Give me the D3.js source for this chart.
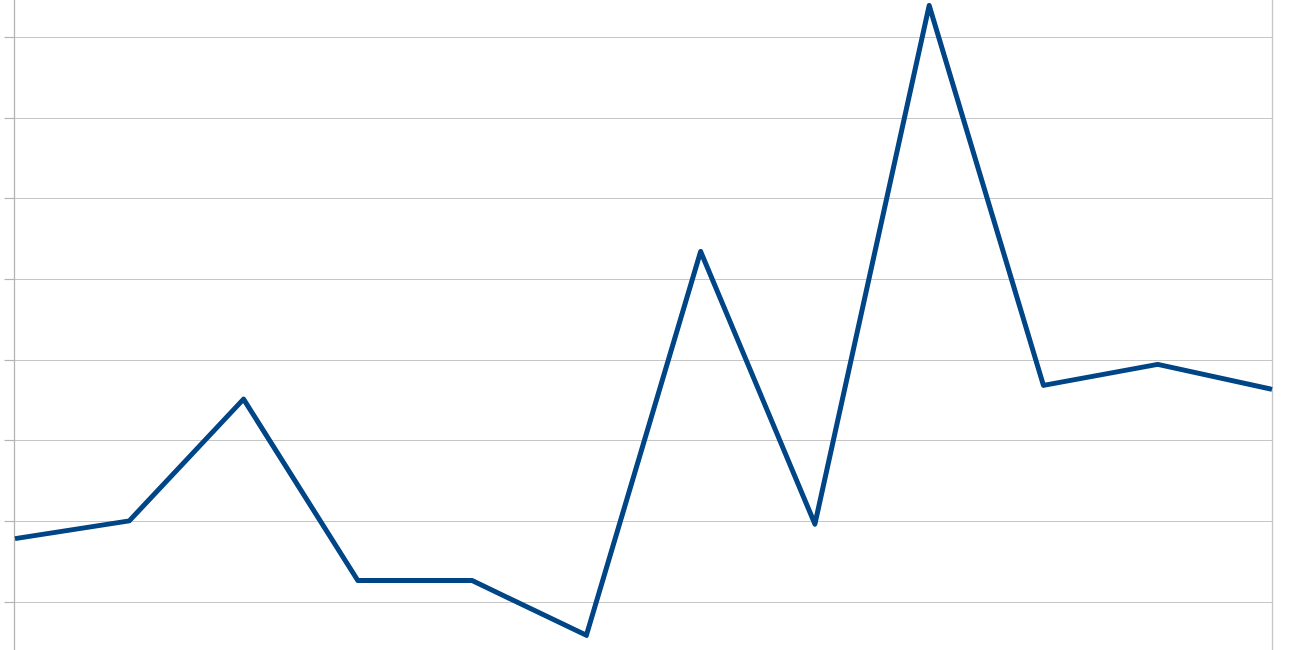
<!DOCTYPE html>
<html>
<head>
<meta charset="utf-8">
<script src="https://cdn.jsdelivr.net/npm/d3@7"></script>
<style>
  html, body { margin: 0; padding: 0; background: #ffffff; }
  svg { display: block; }
</style>
</head>
<body>
<svg id="chart" width="1300" height="650"></svg>
<script>
// categories (no labels visible in the crop)
const categories = ["1", "2", "3", "4", "5", "6", "7", "8", "9", "10", "11", "12"];
// series values
const values = [17.8, 20.0, 35.1, 12.6, 12.6, 5.8, 53.4, 19.6, 83.9, 36.8, 39.4, 36.3];
// gridline / tick values
const tickValues = [10, 20, 30, 40, 50, 60, 70, 80];

const svg = d3.select("#chart");
const left = 14, right = 1272;

const x = d3.scalePoint()
    .domain(categories)
    .range([left + 1, right]);

// 10 -> 601.5, 80 -> 37
const y = d3.scaleLinear()
    .domain([10, 80])
    .range([601.5, 37]);

// gridlines
svg.append("g")
    .selectAll("line")
    .data(tickValues)
    .join("line")
    .attr("x1", left)
    .attr("x2", right)
    .attr("y1", d => Math.round(y(d)) + 0.5)
    .attr("y2", d => Math.round(y(d)) + 0.5)
    .attr("stroke", "#c6c6c6")
    .attr("stroke-width", 1.2);

// left axis with short ticks
const yAxis = d3.axisLeft(y)
    .tickValues(tickValues)
    .tickSize(10)
    .tickFormat("");
const ag = svg.append("g")
    .attr("transform", "translate(" + (left + 0.5) + ",0)")
    .call(yAxis);
ag.select(".domain").remove();
ag.selectAll(".tick line").attr("stroke", "#b4b4b4").attr("stroke-width", 1.2);
ag.selectAll(".tick").attr("transform", d => "translate(0," + (Math.round(y(d)) + 0.5) + ")");

// left and right vertical axis lines
svg.append("line")
    .attr("x1", left + 0.5).attr("x2", left + 0.5)
    .attr("y1", 0).attr("y2", 650)
    .attr("stroke", "#b4b4b4")
    .attr("stroke-width", 1.3);
svg.append("line")
    .attr("x1", right + 0.5).attr("x2", right + 0.5)
    .attr("y1", 0).attr("y2", 650)
    .attr("stroke", "#c6c6c6")
    .attr("stroke-width", 1.3);

// data line
const line = d3.line()
    .x((d, i) => x(categories[i]))
    .y(d => y(d));

svg.append("path")
    .datum(values)
    .attr("d", line)
    .attr("fill", "none")
    .attr("stroke", "#004586")
    .attr("stroke-width", 5)
    .attr("stroke-linejoin", "round")
    .attr("stroke-linecap", "butt");
</script>
</body>
</html>
